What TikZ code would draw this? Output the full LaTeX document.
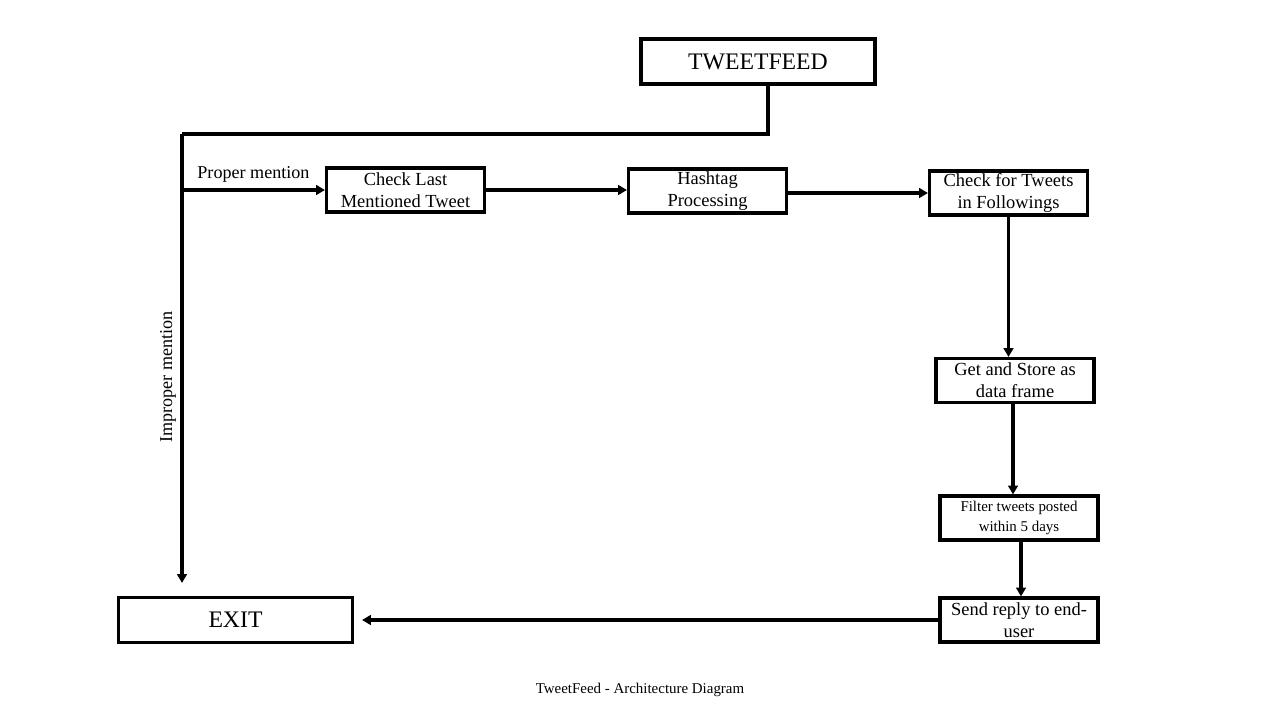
\documentclass[tikz,border=0pt]{standalone}
\usepackage{fontspec}
\setmainfont{Liberation Serif}
\usetikzlibrary{arrows.meta}

\tikzset{
  block/.style={draw, line width=1.8pt, minimum width=3.16cm, minimum height=0.88cm,
    inner sep=1pt, align=center, font=\fontsize{10.5}{12.5}\selectfont},
  bigblock/.style={block, minimum width=4.68cm, minimum height=0.9cm,
    font=\fontsize{13.5}{16}\selectfont},
  flow/.style={line width=1.8pt, -{Triangle[length=5pt,width=5.5pt]}},
}

\begin{document}
\begin{tikzpicture}[x=0.02cm, y=-0.02cm]
    \useasboundingbox (0,0) rectangle (1280,720);

    % boxes
    \node[bigblock] (feed) at (758,61.5) {TWEETFEED};
    \node[block] (check) at (405.5,190) {Check Last\\Mentioned Tweet};
    \node[block] (hash) at (707.5,191) {Hashtag\\Processing};
    \node[block] (follow) at (1008.5,193) {Check for Tweets\\in Followings};
    \node[block] (store) at (1015,380.5) {Get and Store as\\data frame};
    \node[block, font=\fontsize{8.5}{11}\selectfont] (filter) at (1019,518) {Filter tweets posted\\within 5 days};
    \node[block] (reply) at (1019,620) {Send reply to end-\\user};
    \node[bigblock] (exit) at (235.5,620) {EXIT};

    % mention split
    \coordinate (split) at (182,134);
    \coordinate (fork) at (182,190);
    \draw[line width=1.8pt] ([xshift=0.2cm]feed.south) |- (split);
    \draw[flow, shorten >=0.26cm] (split) -- (split |- exit.north);
    \draw[flow] (fork) -- node[above, font=\fontsize{10.3}{12}\selectfont] {Proper mention} (check.west);
    \node[rotate=90, font=\fontsize{10.3}{12}\selectfont] (improper) at (168,377) {Improper mention};

    % main flow
    \draw[flow] (check.east) -- (check.east -| hash.west);
    \draw[flow] (hash.east |- follow.west) -- (follow.west);
    \draw[flow] (follow.south) -- (follow.south |- store.north);
    \draw[flow] ([xshift=-0.04cm]store.south) -- ([xshift=-0.04cm]store.south |- filter.north);
    \draw[flow] ([xshift=0.04cm]filter.south) -- ([xshift=0.04cm]filter.south |- reply.north);
    \draw[flow, shorten >=0.16cm] (reply.west) -- (exit.east);

    \node[font=\fontsize{8.5}{10}\selectfont] (caption) at (640,690) {TweetFeed - Architecture Diagram};
\end{tikzpicture}
\end{document}
